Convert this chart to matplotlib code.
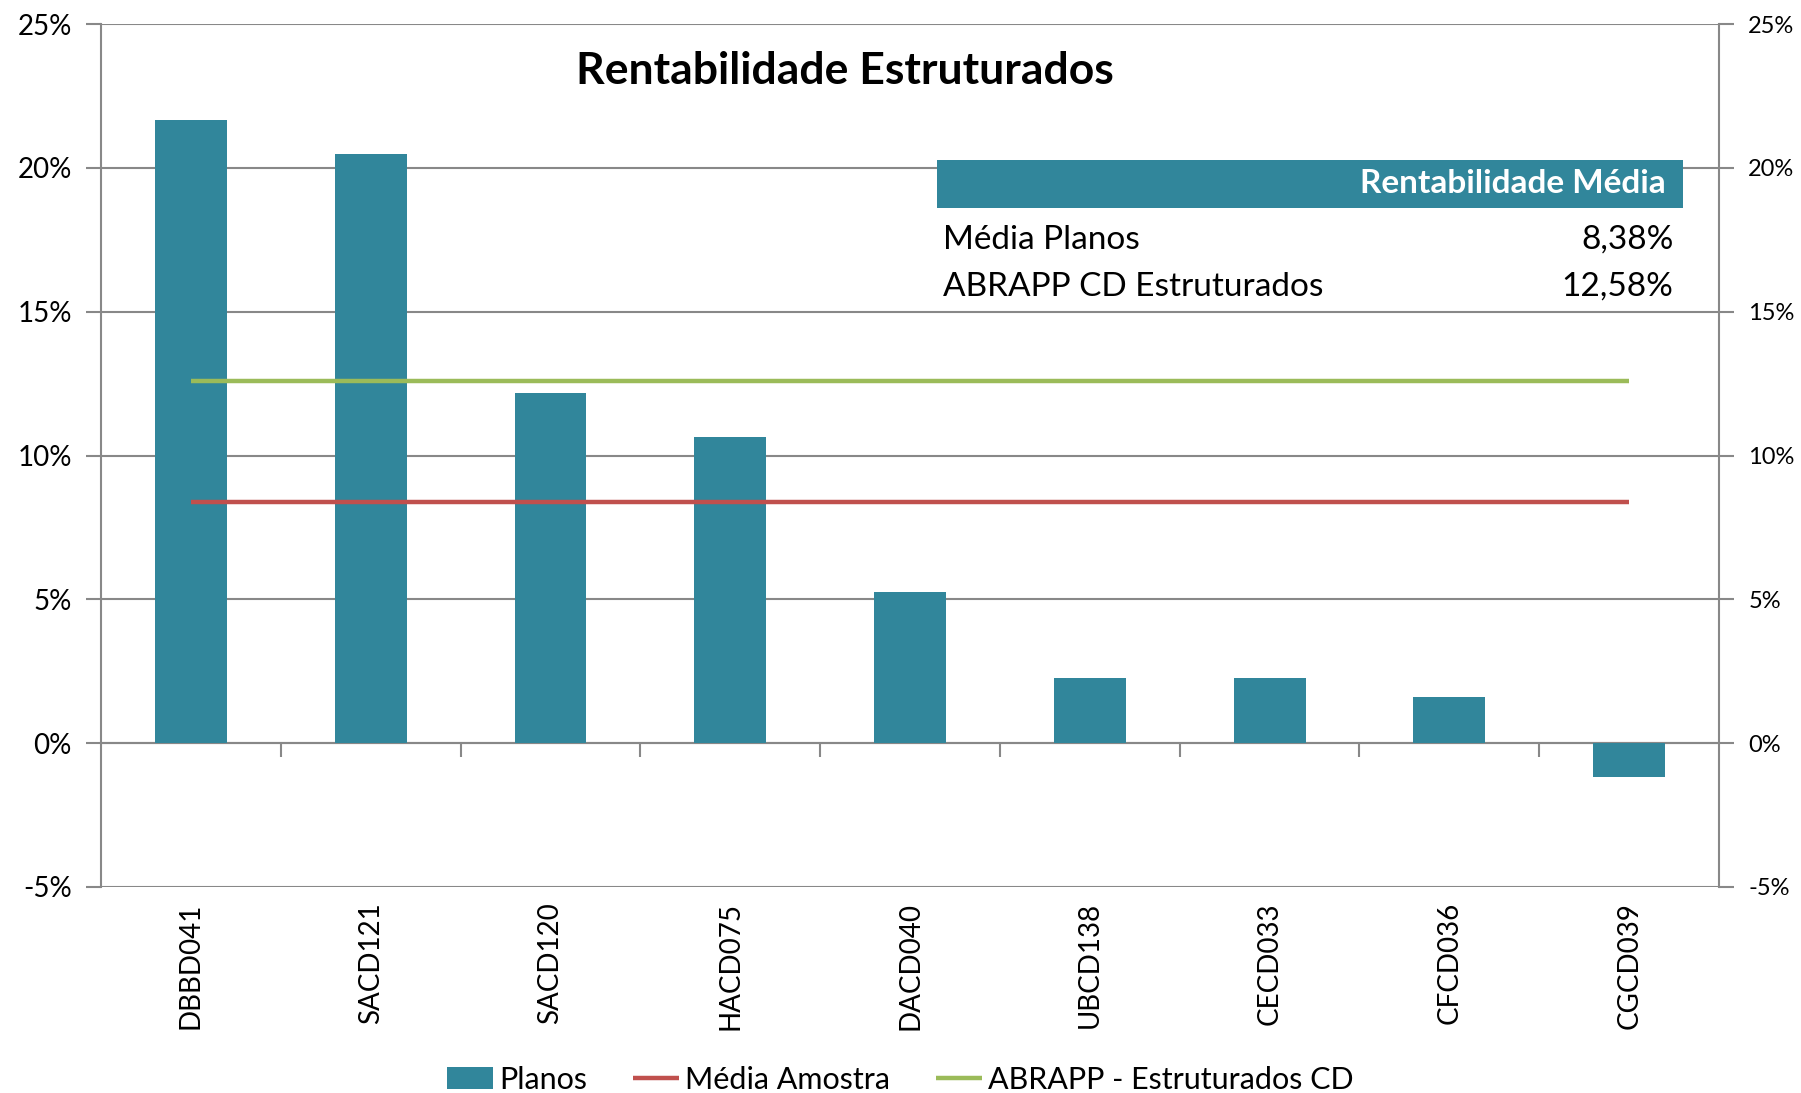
import matplotlib
matplotlib.use("Agg")
import matplotlib.pyplot as plt
from matplotlib.patches import Rectangle
from matplotlib.ticker import FuncFormatter, FixedLocator

plt.rcParams['font.family'] = ['Lato', 'DejaVu Sans']

# data
planos = ['DBBD041', 'SACD121', 'SACD120', 'HACD075', 'DACD040',
          'UBCD138', 'CECD033', 'CFCD036', 'CGCD039']
rentab = [21.67, 20.47, 12.16, 10.64, 5.26, 2.27, 2.25, 1.62, -1.18]
media_amostra = 8.38
abrapp_cd = 12.58
tabela_nomes = ['Média Planos', 'ABRAPP CD Estruturados']
tabela_valores = ['8,38%', '12,58%']

teal = '#31869B'
red = '#C0504D'
green = '#9BBB59'
gray = '#888888'

fig = plt.figure(figsize=(18.01, 10.93), dpi=100)
ax = fig.add_axes([0.0561, 0.1885, 0.8984, 0.7895])

x = list(range(len(planos)))
bars = ax.bar(x, rentab, width=0.4, color=teal, zorder=3, label='Planos')
l1, = ax.plot([x[0], x[-1]], [media_amostra] * 2, color=red, lw=3.2, zorder=4,
              label='Média Amostra', solid_capstyle='butt')
l2, = ax.plot([x[0], x[-1]], [abrapp_cd] * 2, color=green, lw=3.2, zorder=4,
              label='ABRAPP - Estruturados CD', solid_capstyle='butt')

ax.set_xlim(-0.5, len(planos) - 0.5)
ax.set_ylim(-5, 25)
pct = FuncFormatter(lambda v, p: f'{v:.0f}%')
ax.set_yticks([-5, 0, 5, 10, 15, 20, 25])
ax.yaxis.set_major_formatter(pct)
ax.grid(axis='y', color=gray, lw=1.5, zorder=1)
ax.tick_params(axis='y', length=11, width=1.5, color=gray, labelsize=20, pad=10)

# horizontal axis drawn at 0, ticks between categories
ax.spines['bottom'].set_position(('data', 0))
ax.spines['top'].set_visible(False)
for side in ['bottom', 'left', 'right']:
    ax.spines[side].set_color(gray)
    ax.spines[side].set_linewidth(1.5)
ax.xaxis.set_major_locator(FixedLocator([i + 0.5 for i in x[:-1]]))
ax.tick_params(axis='x', length=10, width=1.5, color=gray, labelbottom=False)

# category labels at the bottom of the plot
sec = ax.secondary_xaxis('bottom')
sec.set_xticks(x)
sec.set_xticklabels(planos, rotation=90, fontsize=20)
sec.tick_params(length=0, pad=11)
sec.spines['bottom'].set_visible(False)

ax2 = ax.twinx()
ax2.set_ylim(ax.get_ylim())
ax2.set_yticks([-5, 0, 5, 10, 15, 20, 25])
ax2.yaxis.set_major_formatter(pct)
ax2.tick_params(axis='y', length=11, width=1.5, color=gray, labelsize=17, pad=10)
for s in ax2.spines.values():
    s.set_visible(False)

fig.text(0.469, 0.935, 'Rentabilidade Estruturados', fontsize=32,
         fontweight='bold', ha='center', va='center')

# summary table
fig.patches.append(Rectangle((0.5203, 0.73), 0.4144, 0.08, transform=fig.transFigure,
                             facecolor='white', edgecolor='none', zorder=5))
fig.patches.append(Rectangle((0.5203, 0.8097), 0.4144, 0.0439, transform=fig.transFigure,
                             facecolor=teal, edgecolor='none', zorder=6))
fig.text(0.9247, 0.8317, 'Rentabilidade Média', color='white', fontsize=24,
         fontweight='bold', ha='right', va='center', zorder=7)
for nome, val, yy in zip(tabela_nomes, tabela_valores, [0.7804, 0.7374]):
    fig.text(0.5236, yy, nome, fontsize=24, ha='left', va='center', zorder=7)
    fig.text(0.9291, yy, val, fontsize=24, ha='right', va='center', zorder=7)

fig.legend([bars, l1, l2], ['Planos', 'Média Amostra', 'ABRAPP - Estruturados CD'],
           loc='center', bbox_to_anchor=(0.5, 0.012), ncol=3, frameon=False,
           fontsize=22, handlelength=1.5, handletextpad=0.2, columnspacing=1.5)

fig.savefig('out.png', dpi=100)
